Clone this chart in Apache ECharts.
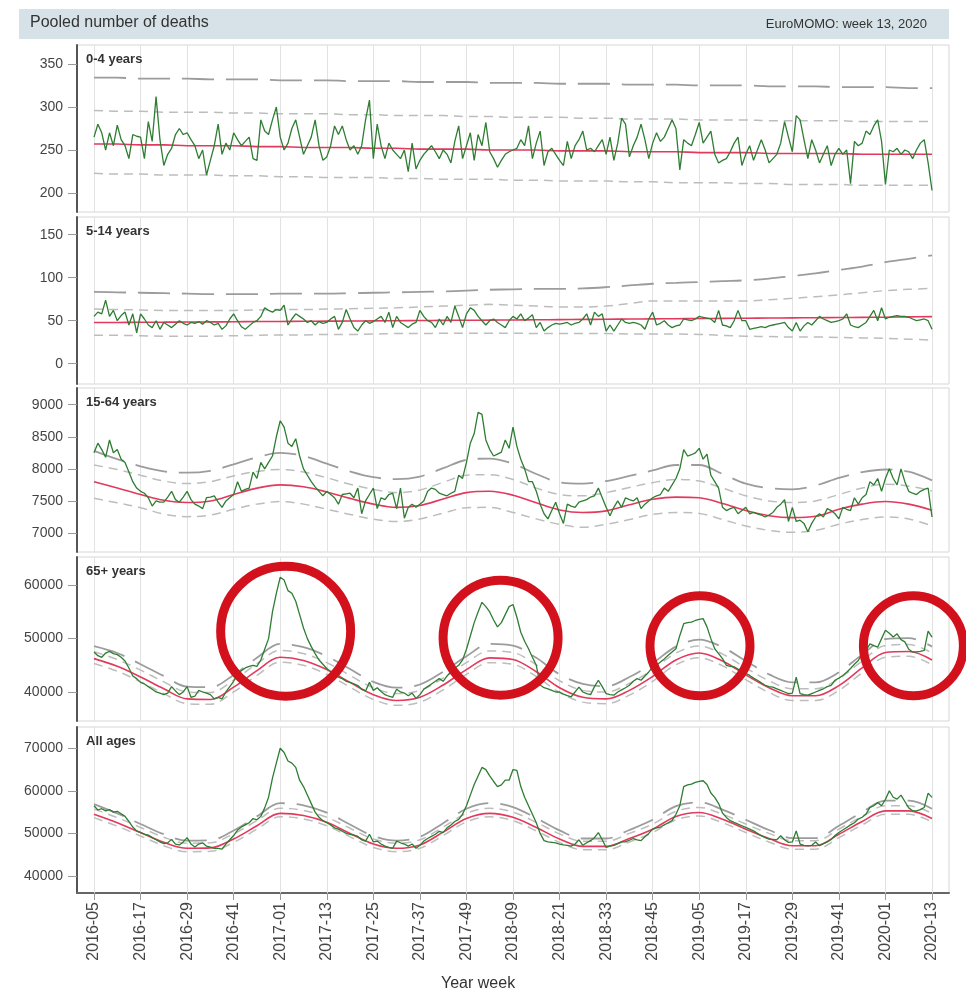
<!DOCTYPE html>
<html>
<head>
    <title>Pooled number of deaths</title>
    <meta http-equiv="Content-Type" content="text/html; charset=utf-8">
    <style>
        html, body { margin: 0; padding: 0; background: #fff; }
        #main { width: 966px; height: 1000px; }
    </style>
</head>
<body>
<div id="main"></div>
<script src="https://cdn.jsdelivr.net/npm/echarts@6/dist/echarts.min.js"></script>
<script>
    // x = week index, 0 = 2016-05 ... 216 = 2020-13
    var tickWeeks = [0, 12, 24, 36, 48, 60, 72, 84, 96, 108, 120, 132, 144, 156, 168, 180, 192, 204, 216];
    var tickLabels = ['2016-05', '2016-17', '2016-29', '2016-41', '2017-01', '2017-13', '2017-25', '2017-37', '2017-49',
        '2018-09', '2018-21', '2018-33', '2018-45', '2019-05', '2019-17', '2019-29', '2019-41', '2020-01', '2020-13'];
    // baseline / threshold curves are read every 6 weeks
    var bandWeeks = [0, 6, 12, 18, 24, 30, 36, 42, 48, 54, 60, 66, 72, 78, 84, 90, 96, 102, 108, 114, 120, 126, 132, 138,
        144, 150, 156, 162, 168, 174, 180, 186, 192, 198, 204, 210, 216];

    // ---- 0-4 years
    var obs04 = [
        265, 280, 270, 250, 270, 255, 279, 262, 255, 240, 268, 266,
        265, 240, 283, 260, 312, 262, 232, 245, 252, 268, 275, 268,
        270, 262, 255, 240, 250, 221, 238, 255, 280, 245, 258, 250,
        270, 262, 255, 260, 265, 240, 238, 285, 272, 268, 285, 300,
        265, 250, 258, 275, 285, 265, 245, 255, 265, 285, 255, 238,
        242, 255, 278, 268, 278, 262, 250, 255, 245, 255, 285, 308,
        240, 280, 255, 240, 258, 250, 245, 240, 250, 225, 258, 228,
        238, 245, 250, 255, 248, 240, 250, 245, 235, 260, 278, 240,
        255, 270, 238, 268, 255, 282, 248, 240, 230, 238, 245, 248,
        250, 252, 262, 255, 278, 240, 258, 272, 232, 248, 252, 245,
        238, 232, 260, 240, 255, 262, 272, 250, 252, 248, 255, 262,
        245, 265, 238, 258, 287, 280, 242, 255, 265, 280, 262, 240,
        258, 270, 260, 265, 275, 285, 275, 227, 262, 258, 255, 268,
        282, 258, 265, 272, 245, 235, 238, 240, 248, 258, 265, 232,
        245, 255, 238, 250, 262, 250, 235, 240, 245, 258, 283, 265,
        248, 290, 285, 262, 240, 262, 250, 235, 245, 255, 232, 245,
        252, 245, 250, 211, 260, 255, 258, 272, 268, 278, 285, 260,
        210, 250, 248, 252, 245, 250, 248, 240, 250, 258, 262, 235,
        203];
    var base04 = [257, 257, 256, 256, 255, 255, 255, 254, 254, 253, 253, 253, 252, 252, 251, 251, 251, 250, 250, 250,
        249, 249, 249, 248, 248, 248, 247, 247, 247, 246, 246, 246, 246, 245, 245, 245, 245];
    var hi4_04 = [334, 334, 333, 333, 333, 332, 332, 332, 331, 331, 331, 330, 330, 330, 329, 329, 329, 328, 328, 328,
        327, 327, 327, 326, 326, 326, 325, 325, 325, 324, 324, 324, 323, 323, 323, 322, 322];
    var hi2_04 = [296, 295, 295, 294, 294, 294, 293, 293, 292, 292, 292, 291, 291, 290, 290, 290, 289, 289, 288, 288,
        288, 287, 287, 286, 286, 286, 285, 285, 285, 284, 284, 284, 284, 283, 283, 283, 283];
    var lo2_04 = [223, 222, 222, 221, 221, 221, 220, 220, 219, 219, 218, 218, 218, 217, 217, 216, 216, 216, 215, 215,
        214, 214, 214, 213, 213, 212, 212, 212, 211, 211, 210, 210, 210, 209, 209, 209, 209];

    // ---- 5-14 years
    var obs514 = [
        55, 60, 58, 74, 55, 62, 50, 56, 60, 45, 58, 36,
        58, 52, 45, 42, 50, 40, 48, 45, 42, 46, 50, 47,
        45, 48, 47, 49, 46, 50, 48, 45, 47, 40, 44, 52,
        58, 50, 43, 40, 44, 48, 50, 55, 65, 62, 60, 63,
        62, 68, 45, 52, 58, 55, 52, 48, 50, 45, 49, 47,
        48, 52, 55, 40, 48, 63, 52, 42, 38, 45, 50, 47,
        49, 52, 55, 48, 60, 42, 55, 48, 45, 42, 46, 48,
        62, 55, 50, 48, 42, 52, 45, 55, 48, 67, 55, 42,
        58, 65, 62, 55, 50, 45, 50, 52, 48, 45, 42, 50,
        55, 52, 58, 50, 53, 57, 42, 48, 38, 42, 45, 47,
        46, 47, 48, 45, 47, 48, 52, 58, 45, 60, 55, 58,
        38, 45, 38, 45, 52, 48, 47, 48, 47, 45, 40, 52,
        60, 45, 47, 50, 45, 42, 44, 45, 52, 51, 50, 52,
        55, 54, 53, 52, 48, 62, 45, 44, 42, 50, 62, 50,
        50, 40, 41, 42, 43, 42, 44, 45, 46, 47, 48, 42,
        38, 48, 38, 44, 48, 45, 50, 55, 52, 50, 48, 49,
        50, 52, 58, 45, 43, 42, 45, 48, 55, 62, 50, 65,
        52, 54, 55, 56, 55, 55, 54, 52, 50, 51, 52, 50,
        40];
    var base514 = [48, 48, 48.2, 48.3, 48.5, 48.6, 48.8, 49, 49.1, 49.3, 49.5, 49.6, 49.8, 50, 50.2, 50.4, 50.5, 50.7,
        50.9, 51.1, 51.3, 51.5, 51.7, 51.9, 52.1, 52.3, 52.5, 52.7, 52.9, 53.1, 53.3, 53.5, 53.7, 53.9, 54.1, 54.4, 54.7];
    var hi4_514 = [83.5, 83, 82.5, 82, 81.5, 81, 81, 81, 81.5, 81.5, 81.5, 82, 82.5, 83, 83.5, 84, 85, 86, 86.5, 87,
        87, 87.5, 89, 91, 93, 94, 95, 96, 97, 99, 102, 105, 109, 113, 118, 122, 126];
    var hi2_514 = [63.5, 63, 62.5, 62, 62, 62, 62, 62.5, 63, 63, 63.5, 64, 64.5, 65, 66, 67, 68, 69, 68, 67,
        66, 66, 67, 70, 73, 73, 73, 73, 73, 74.5, 76, 78, 80, 82.5, 85, 86.5, 87.5];
    var lo2_514 = [33, 33, 32.5, 32, 32, 32, 32.5, 33, 33.5, 33.5, 34, 34, 34.5, 35, 35, 35.5, 35.5, 35.5, 35.5, 35,
        35, 35, 35, 34.5, 34.5, 34.5, 34, 33, 32, 31.5, 31, 31, 30.5, 30, 29.5, 28.5, 27.5];

    // ---- 15-64 years
    var obs1564 = [
        8250, 8400, 8300, 8180, 8450, 8250, 8300, 8150, 8100, 7950, 7800, 7700,
        7650, 7620, 7550, 7420, 7500, 7480, 7480, 7560, 7650, 7520, 7480, 7560,
        7650, 7520, 7450, 7420, 7380, 7550, 7560, 7580, 7480, 7400, 7500, 7550,
        7600, 7800, 7650, 7680, 7700, 7950, 7850, 8100, 8000, 8100, 8200, 8500,
        8750, 8650, 8400, 8350, 8470, 8200, 8000, 7900, 7800, 7720, 7650, 7580,
        7650, 7600, 7550, 7450, 7600, 7610, 7620, 7550, 7700, 7300, 7500, 7600,
        7700, 7380, 7550, 7520, 7600, 7620, 7380, 7700, 7230, 7400, 7450, 7400,
        7450, 7500, 7650, 7700, 7680, 7620, 7600, 7580, 7620, 7650, 7900, 7850,
        8100, 8400, 8550, 8880, 8850, 8450, 8300, 8200, 8230, 8260, 8450, 8320,
        8650, 8350, 8150, 8000, 7800, 7800, 7650, 7450, 7300, 7220, 7350, 7480,
        7300, 7150, 7450, 7420, 7400, 7480, 7500, 7520, 7560, 7580, 7700, 7550,
        7400, 7270, 7400, 7500, 7400, 7550, 7520, 7500, 7550, 7380, 7450, 7500,
        7550, 7580, 7600, 7700, 7650, 7750, 7850, 8000, 8300, 8200, 8220, 8250,
        8320, 8150, 8230, 7900, 7800, 7700, 7400, 7350, 7380, 7400, 7300, 7350,
        7400, 7300, 7320, 7300, 7280, 7250, 7280, 7320, 7400, 7450, 7520, 7180,
        7400, 7180, 7200, 7150, 7020, 7150, 7250, 7300, 7250, 7380, 7350, 7300,
        7220, 7400, 7370, 7350, 7550, 7450, 7550, 7600, 7800, 7750, 7850, 7650,
        7850, 8000, 7850, 7750, 8000, 7800, 7650, 7620, 7600, 7650, 7680, 7700,
        7250];
    var base1564 = [7800, 7700, 7600, 7510, 7475, 7500, 7600, 7700, 7750, 7720, 7640, 7540, 7450, 7400, 7430, 7530,
        7630, 7650, 7590, 7470, 7360, 7320, 7345, 7440, 7525, 7560, 7550, 7460, 7350, 7270, 7240, 7260, 7370, 7450,
        7490, 7450, 7355];
    var hi4_1564 = [8280, 8150, 8040, 7960, 7940, 7970, 8070, 8180, 8250, 8200, 8080, 7960, 7870, 7840, 7880, 8010,
        8140, 8160, 8080, 7920, 7790, 7770, 7810, 7890, 7975, 8060, 8060, 7920, 7770, 7700, 7680, 7740, 7860, 7950,
        7990, 7955, 7820];
    var hi2_1564 = [8060, 7990, 7900, 7810, 7770, 7800, 7890, 7960, 7990, 7950, 7860, 7760, 7680, 7630, 7670, 7790,
        7900, 7910, 7835, 7700, 7600, 7580, 7630, 7710, 7785, 7835, 7810, 7700, 7580, 7500, 7475, 7500, 7600, 7700,
        7760, 7730, 7655];
    var lo2_1564 = [7540, 7470, 7395, 7295, 7255, 7280, 7370, 7450, 7490, 7450, 7370, 7290, 7215, 7180, 7220, 7310,
        7395, 7400, 7320, 7220, 7135, 7090, 7135, 7210, 7290, 7320, 7305, 7210, 7110, 7040, 7010, 7040, 7135, 7210,
        7250, 7220, 7110];

    // ---- 65+ years
    var obs65 = [
        47500, 46800, 46500, 47300, 47600, 47200, 47000, 46500, 45800, 44500, 43000, 42500,
        41800, 41500, 41000, 40500, 40000, 39800, 39500, 39800, 41000, 40200, 39500, 40000,
        41000, 39000, 39200, 40300, 40000, 39800, 39500, 38700, 39000, 38700, 40000, 41000,
        42000, 43500, 44000, 44500, 44800, 45000, 44800, 46000, 48000, 50000, 55000, 58500,
        61500, 61000, 59000, 58500, 57000, 54500, 52000, 50000, 48500, 47200, 46000, 45200,
        44400, 43800, 43000, 42800, 42500, 42000, 41800, 41500, 41200, 40500, 40200, 41800,
        40300, 40800, 40100, 39500, 39200, 39000, 40500, 40000, 39800, 39300, 39800, 38800,
        39500, 40500, 41000, 41500, 42000, 42500, 42000, 43000, 43800, 44500, 45000, 46000,
        48000, 50500, 53000, 55000, 56800, 56000, 55000, 53500, 52200, 53000, 54500, 56000,
        56400, 54000, 51200, 49500, 48100, 46500, 45000, 41300, 40800, 40600, 40300, 40000,
        40000, 39600, 39300, 39100, 40000, 40900, 40000, 39700, 39500, 41000, 42200, 41000,
        39700, 39500, 39400, 40000, 40400, 40800, 41250, 42000, 42500, 42200, 43000, 43750,
        44700, 45000, 45600, 46200, 46900, 47500, 48100, 50600, 52800, 53000, 53100, 53400,
        53600, 53750, 52200, 50000, 48100, 47200, 46250, 45000, 44800, 44700, 44300, 44000,
        43500, 43100, 42600, 42200, 41700, 41250, 41000, 40900, 40600, 40300, 40000, 39700,
        39800, 42800, 39700, 39500, 39400, 39700, 40000, 40300, 40600, 41000, 41250, 42200,
        42600, 43100, 43700, 44400, 45200, 45900, 47200, 47800, 49000, 48700, 48400, 50000,
        51560, 51000, 50300, 50900, 49800, 49400, 48000, 47500, 47500, 47600, 47800, 51400,
        50300];
    var base65 = [46250, 44800, 42800, 40600, 38700, 38600, 40900, 44000, 46500, 45900, 44200, 41800, 39500, 38400,
        39000, 41300, 44200, 46400, 46100, 43800, 40800, 39000, 38700, 40300, 42900, 46000, 47300, 45800, 43200, 40800,
        39300, 39300, 41200, 44500, 47400, 47600, 46000];
    var hi4_65 = [48600, 47300, 45200, 43000, 41000, 40900, 43200, 46400, 49000, 48400, 46700, 44300, 41900, 40800,
        41400, 43800, 46700, 49000, 48700, 46400, 43300, 41500, 41100, 42800, 45400, 48500, 49800, 48400, 45800, 43300,
        41800, 41800, 43700, 47000, 49900, 50100, 48500];
    var hi2_65 = [47550, 46100, 44100, 41900, 40000, 39900, 42200, 45300, 47800, 47200, 45500, 43100, 40800, 39700,
        40300, 42600, 45500, 47700, 47400, 45100, 42100, 40300, 40000, 41600, 44200, 47300, 48600, 47100, 44500, 42100,
        40600, 40600, 42500, 45800, 48700, 48900, 47300];
    var lo2_65 = [45350, 43900, 41900, 39700, 37800, 37700, 40000, 43100, 45600, 45000, 43300, 40900, 38600, 37500,
        38100, 40400, 43300, 45500, 45200, 42900, 39900, 38100, 37800, 39400, 42000, 45100, 46400, 44900, 42300, 39900,
        38400, 38400, 40300, 43600, 46500, 46700, 45100];

    // ---- All ages
    var obsAll = [
        56500, 55500, 55800, 55300, 55600, 55000, 55200, 54600, 54000, 52800, 51500, 50600,
        50200, 49800, 49600, 49000, 48500, 48000, 47600, 47800, 48600, 47500, 47300, 48000,
        49000, 47500, 46800, 47500, 47800, 47000, 46800, 46500, 46500, 46300, 47500, 48500,
        49500, 50800, 51500, 52000, 52500, 53500, 53200, 54000, 56000, 58500, 63000, 66500,
        70000, 69000, 67000, 66500, 65500, 62500, 61000, 59000, 57000, 55000, 53800, 53000,
        52500, 52000, 51300, 51000, 50500, 50000, 49800, 49600, 49300, 48500, 48200, 49800,
        48000, 48200, 47500, 47000, 46700, 46500, 48200, 47800, 47500, 47000, 47500, 46500,
        47200, 48200, 48800, 49300, 49800, 50500, 50200, 51300, 52000, 52800, 53300, 54500,
        56500, 59000, 61500, 63500, 65500, 65000, 63500, 62200, 61000, 61400, 62500, 62500,
        65000, 64800, 61000, 58500, 56500, 54500, 52500, 50000, 48300, 48000, 47900, 47800,
        47500, 47300, 47200, 47000, 47500, 48500, 47200, 47800, 48300, 49000, 50200, 48500,
        46700, 47000, 47200, 47600, 48000, 48000, 48400, 48800, 48500, 48300, 49200, 50000,
        51000, 51300, 51500, 52000, 52500, 53000, 54500, 56500, 61000, 61400, 61600, 62000,
        62200, 62370, 61500, 59500, 58460, 57000, 54800, 53760, 53000, 52580, 52200, 51800,
        51400, 51000, 50600, 50000, 49450, 49000, 48670, 48600, 48500, 49450, 48500, 47900,
        48000, 50600, 47500, 47200, 47100, 47200, 48000, 47100, 47600, 48000, 48600, 49500,
        50230, 50800, 51400, 52000, 52500, 53370, 53800, 54540, 56100, 56500, 57280, 56500,
        58000, 60020, 58500, 58060, 59000, 57500, 56000, 55320, 55300, 55600, 56100, 59470,
        58460];
    var baseAll = [54500, 52500, 50200, 47900, 46500, 46600, 48700, 51800, 54700, 54200, 52600, 50000, 47500, 46500,
        47300, 50300, 53500, 54700, 53800, 51400, 48700, 46950, 46950, 48800, 51000, 54000, 54900, 53300, 51000, 48800,
        47100, 47100, 49800, 52800, 55300, 55300, 53500];
    var hi4_All = [56900, 54700, 52200, 49800, 48300, 48400, 50700, 54000, 57100, 56600, 54900, 52100, 49400, 48300,
        49200, 52400, 55800, 57100, 56200, 53600, 50700, 48800, 48800, 50800, 53200, 56400, 57300, 55600, 53200, 50800,
        48900, 48900, 51800, 55000, 57700, 57700, 55800];
    var hi2_All = [55700, 53700, 51400, 49100, 47700, 47800, 49900, 53000, 55900, 55400, 53800, 51200, 48700, 47700,
        48500, 51500, 54700, 55900, 55000, 52600, 49900, 48150, 48150, 50000, 52200, 55200, 56100, 54500, 52200, 50000,
        48300, 48300, 51000, 54000, 56500, 56500, 54700];
    var lo2_All = [53700, 51700, 49400, 47100, 45700, 45800, 47900, 51000, 53900, 53400, 51800, 49200, 46700, 45700,
        46500, 49500, 52700, 53900, 53000, 50600, 47900, 46150, 46150, 48000, 50200, 53200, 54100, 52500, 50200, 48000,
        46300, 46300, 49000, 52000, 54500, 54500, 52700];

    // hand-drawn red rings on the 65+ panel: [week, deaths]
    var ringCentres = [[49.4, 51400], [104.8, 50160], [156.2, 48660], [211.2, 48660]];
    var ringSizes = [130, 115, 100, 100];

    var FONT = "'Liberation Sans', Arial, sans-serif";
    var X_MIN = -4.38, X_MAX = 220.38;

    var panels = [
        {name: '0-4 years', obs: obs04, base: base04, hi4: hi4_04, hi2: hi2_04, lo2: lo2_04,
            top: 45, height: 167, min: 178, max: 372, ticks: [200, 250, 300, 350]},
        {name: '5-14 years', obs: obs514, base: base514, hi4: hi4_514, hi2: hi2_514, lo2: lo2_514,
            top: 217, height: 167, min: -23.6, max: 170.6, ticks: [0, 50, 100, 150]},
        {name: '15-64 years', obs: obs1564, base: base1564, hi4: hi4_1564, hi2: hi2_1564, lo2: lo2_1564,
            top: 388, height: 164, min: 6704, max: 9260, ticks: [7000, 7500, 8000, 8500, 9000]},
        {name: '65+ years', obs: obs65, base: base65, hi4: hi4_65, hi2: hi2_65, lo2: lo2_65,
            top: 557, height: 164, min: 34560, max: 65300, ticks: [40000, 50000, 60000]},
        {name: 'All ages', obs: obsAll, base: baseAll, hi4: hi4_All, hi2: hi2_All, lo2: lo2_All,
            top: 727, height: 166, min: 36000, max: 75000, ticks: [40000, 50000, 60000, 70000]}
    ];

    function bandSeries(values, idx, color, dash, width, z) {
        return {
            type: 'line', xAxisIndex: idx, yAxisIndex: idx, z: z, silent: true,
            symbol: 'none', smooth: 0.35,
            lineStyle: {color: color, width: width, type: dash},
            data: bandWeeks.map(function (w, k) { return [w, values[k]]; })
        };
    }

    var grids = [], xAxes = [], yAxes = [], series = [];
    var graphics = [
        {type: 'rect', z: 100, shape: {x: 19, y: 9, width: 930, height: 30}, style: {fill: '#d6e2e7'}},
        {type: 'text', z: 101, left: 30, top: 15, style: {text: 'Pooled number of deaths', font: '16px ' + FONT, fill: '#333'}},
        {type: 'text', z: 101, right: 39, top: 18, style: {text: 'EuroMOMO: week 13, 2020', font: '13px ' + FONT, fill: '#333'}},
        {type: 'text', z: 101, left: 441, top: 976, style: {text: 'Year week', font: '16px ' + FONT, fill: '#333'}}
    ];

    panels.forEach(function (p, i) {
        var last = i === panels.length - 1;
        grids.push({left: 77, width: 872, top: p.top, height: p.height, show: true,
            borderColor: '#d6d6d6', borderWidth: 1, backgroundColor: '#fff'});
        xAxes.push({
            gridIndex: i, type: 'value', min: X_MIN, max: X_MAX, show: last,
            axisLine: {show: true, onZero: false, lineStyle: {color: '#666', width: 2}},
            axisTick: {show: true, length: 7, customValues: tickWeeks, lineStyle: {color: '#999'}},
            axisLabel: {
                show: true, rotate: 90, margin: 9, fontSize: 16, color: '#444', fontFamily: FONT,
                customValues: tickWeeks,
                formatter: function (v) { return tickLabels[tickWeeks.indexOf(v)]; }
            },
            splitLine: {show: false}
        });
        yAxes.push({
            gridIndex: i, type: 'value', min: p.min, max: p.max,
            axisLine: {show: true, onZero: false, lineStyle: {color: '#555', width: 2}},
            axisTick: {show: true, length: 9, customValues: p.ticks, lineStyle: {color: '#999'}},
            axisLabel: {
                margin: 14, fontSize: 14, color: '#444', fontFamily: FONT, customValues: p.ticks,
                formatter: function (v) { return String(v); }
            },
            splitLine: {show: false}
        });

        var lower = bandSeries(p.lo2, i, '#bdbdbd', [9, 6], 1.5, 2);
        // vertical grid lines at the labelled weeks
        lower.markLine = {
            silent: true, symbol: ['none', 'none'], z: 1, animation: false,
            label: {show: false},
            lineStyle: {color: '#e2e2e2', width: 1, type: 'solid'},
            data: tickWeeks.map(function (w) { return {xAxis: w}; })
        };
        series.push(lower);
        series.push(bandSeries(p.hi2, i, '#bdbdbd', [9, 6], 1.5, 2));
        series.push(bandSeries(p.hi4, i, '#9c9c9c', [32, 12], 1.8, 2));
        series.push(bandSeries(p.base, i, '#e2395c', 'solid', 1.6, 3));

        var obs = {
            type: 'line', xAxisIndex: i, yAxisIndex: i, z: 4, silent: true,
            symbol: 'none', smooth: false,
            lineStyle: {color: '#2e7d32', width: 1.3},
            data: p.obs.map(function (v, w) { return [w, v]; })
        };
        if (p.name === '65+ years') {
            obs.markPoint = {
                silent: true, symbol: 'circle', z: 10, animation: false,
                label: {show: false},
                itemStyle: {color: 'rgba(0,0,0,0)', borderColor: '#d3111d', borderWidth: 9},
                data: ringCentres.map(function (c, k) { return {coord: c, symbolSize: ringSizes[k]}; })
            };
        }
        series.push(obs);

        graphics.push({type: 'text', z: 100, left: 86, top: p.top + 8,
            style: {text: p.name, font: 'bold 13px ' + FONT, fill: '#333'}});
    });

    var myChart = echarts.init(document.getElementById('main'));
    myChart.setOption({
        animation: false,
        backgroundColor: '#fff',
        textStyle: {fontFamily: FONT},
        grid: grids,
        xAxis: xAxes,
        yAxis: yAxes,
        series: series,
        graphic: graphics
    });
</script>
</body>
</html>
